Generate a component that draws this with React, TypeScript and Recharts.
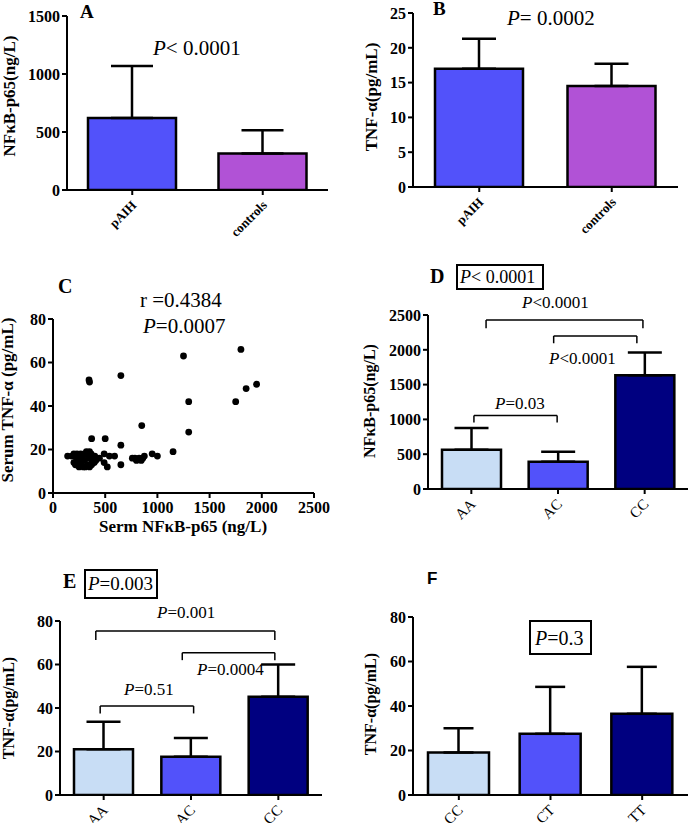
import React from 'react';
import { BarChart, Bar, XAxis, YAxis, ErrorBar, ReferenceLine, Cell, ScatterChart, Scatter } from 'recharts';

// A / B: patients vs controls
const groupsAB = ['pAIH', 'controls'];
const nfkbMeanA = [620, 315];
const nfkbSdA = [450, 200];
const nfkbTicksA = [0, 500, 1000, 1500];
const tnfMeanB = [17.0, 14.5];
const tnfSdB = [4.3, 3.2];
const tnfTicksB = [0, 5, 10, 15, 20, 25];

// C: correlation scatter (serum NFkB-p65 vs TNF-a)
const serumNfkb = [
  140, 180, 200, 215, 230, 250, 265, 285, 300, 320, 335, 350, 365, 380, 400, 420, 445,
  200, 215, 235, 250, 270, 290, 310, 330, 350, 370, 395,
  225, 260, 300, 340, 375, 410,
  490, 540, 590, 490, 520, 650, 650, 370, 500,
  760, 785, 800, 825, 845, 860, 875, 950, 1000, 1150, 850,
  345, 350, 650, 1250, 1300, 1300, 1750, 1800, 1850, 1950,
];
const serumTnf = [
  17, 17, 18, 17, 18, 17, 18, 17, 18, 19, 18, 19, 18, 17, 17, 16, 16,
  14, 13, 13, 12, 13, 12, 12, 13, 12, 13, 14,
  15, 15, 15, 16, 15, 15,
  18, 17, 17, 14, 12, 22, 13, 25, 25,
  16, 16, 15, 16, 15, 16, 17, 18, 17, 19, 31,
  52, 51, 54, 63, 42, 28, 42, 66, 48, 50,
];
const scatterXTicks = [0, 500, 1000, 1500, 2000, 2500];
const scatterYTicks = [0, 20, 40, 60, 80];

// D / E: genotypes AA AC CC
const genoDE = ['AA', 'AC', 'CC'];
const nfkbMeanD = [565, 392, 1635];
const nfkbSdD = [310, 143, 325];
const nfkbTicksD = [0, 500, 1000, 1500, 2000, 2500];
const tnfMeanE = [21, 17.6, 45.2];
const tnfSdE = [12.7, 8.6, 14.8];

// F: genotypes CC CT TT
const genoF = ['CC', 'CT', 'TT'];
const tnfMeanF = [19.1, 27.5, 36.5];
const tnfSdF = [10.9, 21.1, 21.1];
const tnfTicks80 = [0, 20, 40, 60, 80];

const pairColors = ['#5252FA', '#B152D6'];
const genoColors = ['#C8DDF5', '#5252FA', '#000080'];

const SERIF = 'Liberation Serif';

// significance brackets, x in category units (0 = left edge of axis)
type Bracket = { x1: number; x2: number; y: number; drop: number };
const bracketsD: Bracket[] = [
  { x1: 0.53, x2: 1.49, y: 1057, drop: 956 },
  { x1: 0.67, x2: 2.48, y: 2428, drop: 2309 },
  { x1: 1.45, x2: 2.41, y: 2199, drop: 2094 },
];
const bracketsE: Bracket[] = [
  { x1: 0.46, x2: 1.53, y: 40.9, drop: 37.5 },
  { x1: 0.41, x2: 2.46, y: 75.4, drop: 71.3 },
  { x1: 1.4, x2: 2.46, y: 65.4, drop: 62 },
];

const SlantTick = (props: any) => {
  const { x, y, payload, fontSize, bold, cats } = props;
  const label = cats[Math.round(payload.value - 0.5)];
  return (
    <g transform={`translate(${x + 5},${y + 9})`}>
      <text
        transform="rotate(-45)"
        textAnchor="end"
        style={{ fontFamily: SERIF, fontSize, fontWeight: bold ? 700 : 400 }}
        fill="#000"
      >
        {label}
      </text>
    </g>
  );
};

const NumTick = (props: any) => {
  const { x, y, payload, textAnchor, vertical } = props;
  return (
    <text
      x={x}
      y={y}
      dy={vertical ? '0.36em' : '0.8em'}
      textAnchor={textAnchor}
      style={{ fontFamily: SERIF, fontSize: 16, fontWeight: 700 }}
      fill="#000"
    >
      {payload.value}
    </text>
  );
};

const axisStyle = { stroke: '#000', strokeWidth: 2 };

type PanelProps = {
  left: number;
  top: number;
  width: number;
  height: number;
  plot: { left: number; top: number; right: number; bottom: number };
  cats: string[];
  means: number[];
  sds: number[];
  colors: string[];
  max: number;
  ticks: number[];
  barSize: number;
  cap: number;
  brackets?: Bracket[];
  tickFont: number;
  tickBold: boolean;
};

const BarPanel = (p: PanelProps) => {
  const data = p.cats.map((c, i) => ({ name: c, pos: i + 0.5, mean: p.means[i], sd: [0, p.sds[i]] }));
  return (
    <div style={{ position: 'absolute', left: p.left, top: p.top }}>
      <BarChart
        width={p.width}
        height={p.height}
        data={data}
        margin={{ top: p.plot.top - p.top, right: p.left + p.width - p.plot.right, left: 0, bottom: 0 }}
      >
        <XAxis
          dataKey="pos"
          type="number"
          domain={[0, p.cats.length]}
          allowDataOverflow
          ticks={data.map((d) => d.pos)}
          height={p.top + p.height - p.plot.bottom}
          axisLine={axisStyle}
          tickLine={axisStyle}
          tickSize={5}
          interval={0}
          tick={(t: any) => <SlantTick {...t} cats={p.cats} fontSize={p.tickFont} bold={p.tickBold} />}
        />
        <YAxis
          width={p.plot.left - p.left}
          domain={[0, p.max]}
          allowDataOverflow
          ticks={p.ticks}
          interval={0}
          axisLine={axisStyle}
          tickLine={axisStyle}
          tickSize={5}
          tick={(t: any) => <NumTick {...t} vertical />}
        />
        <Bar dataKey="mean" isAnimationActive={false} barSize={p.barSize} stroke="#000" strokeWidth={2.5}>
          {data.map((d, i) => (
            <Cell key={d.name} fill={p.colors[i]} />
          ))}
          <ErrorBar dataKey="sd" direction="y" width={p.cap} stroke="#000" strokeWidth={2.5} />
        </Bar>
        {(p.brackets || []).flatMap((b, i) => [
          <ReferenceLine key={`h${i}`} stroke="#000" strokeWidth={1.5} ifOverflow="visible"
            segment={[{ x: b.x1, y: b.y }, { x: b.x2, y: b.y }]} />,
          <ReferenceLine key={`l${i}`} stroke="#000" strokeWidth={1.5} ifOverflow="visible"
            segment={[{ x: b.x1, y: b.y }, { x: b.x1, y: b.drop }]} />,
          <ReferenceLine key={`r${i}`} stroke="#000" strokeWidth={1.5} ifOverflow="visible"
            segment={[{ x: b.x2, y: b.y }, { x: b.x2, y: b.drop }]} />,
        ])}
      </BarChart>
    </div>
  );
};

const PText = ({ x, y, size, rest, sep = '' }: { x: number; y: number; size: number; rest: string; sep?: string }) => (
  <text x={x} y={y} style={{ fontFamily: SERIF, fontSize: size }} fill="#000">
    <tspan fontStyle="italic">P</tspan>
    {sep}
    {rest}
  </text>
);

const VLabel = ({ cx, cy, text, size = 17 }: { cx: number; cy: number; text: string; size?: number }) => (
  <text
    x={cx}
    y={cy}
    transform={`rotate(-90 ${cx} ${cy})`}
    textAnchor="middle"
    dominantBaseline="central"
    style={{ fontFamily: SERIF, fontSize: size, fontWeight: 700 }}
    fill="#000"
  >
    {text}
  </text>
);

const Letter = ({ x, y, t, sans = false, size = 19 }: { x: number; y: number; t: string; sans?: boolean; size?: number }) => (
  <text x={x} y={y} style={{ fontFamily: sans ? 'Liberation Sans' : SERIF, fontWeight: 700, fontSize: size }} fill="#000">
    {t}
  </text>
);

export default function App() {
  const scatterData = serumNfkb.map((v, i) => ({ x: v, y: serumTnf[i] }));
  return (
    <div style={{ position: 'absolute', left: 0, top: 0, width: 691, height: 823, background: '#fff', overflow: 'hidden' }}>
      <BarPanel left={0} top={0} width={340} height={250}
        plot={{ left: 67, top: 16, right: 328, bottom: 190 }}
        cats={groupsAB} means={nfkbMeanA} sds={nfkbSdA} colors={pairColors}
        max={1500} ticks={nfkbTicksA} barSize={88} cap={21} tickFont={13} tickBold />
      <BarPanel left={345} top={0} width={346} height={250}
        plot={{ left: 413, top: 13, right: 678, bottom: 187 }}
        cats={groupsAB} means={tnfMeanB} sds={tnfSdB} colors={pairColors}
        max={25} ticks={tnfTicksB} barSize={88} cap={17} tickFont={13} tickBold />

      <div style={{ position: 'absolute', left: 0, top: 270 }}>
        <ScatterChart width={330} height={270} margin={{ top: 49, right: 16, left: 0, bottom: 0 }}>
          <XAxis type="number" dataKey="x" domain={[0, 2500]} ticks={scatterXTicks} interval={0}
            height={47} axisLine={axisStyle} tickLine={axisStyle} tickSize={5}
            tick={(t: any) => <NumTick {...t} />} />
          <YAxis type="number" dataKey="y" domain={[0, 80]} ticks={scatterYTicks} interval={0}
            width={53} axisLine={axisStyle} tickLine={axisStyle} tickSize={5}
            tick={(t: any) => <NumTick {...t} vertical />} />
          <Scatter data={scatterData} isAnimationActive={false} fill="#000"
            shape={(s: any) => <circle cx={s.cx} cy={s.cy} r={3.4} fill="#000" />} />
        </ScatterChart>
      </div>

      <BarPanel left={345} top={270} width={346} height={280}
        plot={{ left: 428, top: 315, right: 688, bottom: 489 }}
        cats={genoDE} means={nfkbMeanD} sds={nfkbSdD} colors={genoColors}
        max={2500} ticks={nfkbTicksD} barSize={59} cap={17} brackets={bracketsD} tickFont={15} tickBold={false} />
      <BarPanel left={0} top={600} width={340} height={223}
        plot={{ left: 60, top: 621, right: 322, bottom: 795 }}
        cats={genoDE} means={tnfMeanE} sds={tnfSdE} colors={genoColors}
        max={80} ticks={tnfTicks80} barSize={59} cap={17} brackets={bracketsE} tickFont={15} tickBold={false} />
      <BarPanel left={345} top={600} width={346} height={223}
        plot={{ left: 413, top: 617, right: 688, bottom: 795 }}
        cats={genoF} means={tnfMeanF} sds={tnfSdF} colors={genoColors}
        max={80} ticks={tnfTicks80} barSize={61} cap={15} tickFont={15} tickBold={false} />

      <svg width={691} height={823} style={{ position: 'absolute', left: 0, top: 0, pointerEvents: 'none' }}>
        {/* panel letters */}
        <Letter x={80} y={18} t="A" />
        <Letter x={433} y={15} t="B" />
        <Letter x={58} y={293} t="C" size={20} />
        <Letter x={430} y={283} t="D" size={20} />
        <Letter x={63} y={588} t="E" size={20} />
        <Letter x={427} y={584} t="F" sans size={17} />

        {/* axis titles */}
        <VLabel cx={9} cy={96} text="NFκB-p65(ng/L)" size={17} />
        <VLabel cx={371} cy={97} text="TNF-α(pg/mL)" />
        <VLabel cx={7} cy={400} text="Serum TNF-α (pg/mL)" />
        <text x={183} y={532} textAnchor="middle" style={{ fontFamily: SERIF, fontWeight: 700, fontSize: 17 }} fill="#000">
          Serm NFκB-p65 (ng/L)
        </text>
        <VLabel cx={369} cy={401} text="NFκB-p65(ng/L)" size={16} />
        <VLabel cx={8} cy={708} text="TNF-α(pg/mL)" size={16} />
        <VLabel cx={370} cy={704} text="TNF-α(pg/mL)" size={16} />

        {/* statistics */}
        <PText x={153} y={55} size={21} sep="<" rest=" 0.0001" />
        <PText x={507} y={25} size={21} sep="=" rest=" 0.0002" />
        <text x={140} y={307} style={{ fontFamily: SERIF, fontSize: 21 }} fill="#000">r =0.4384</text>
        <PText x={143} y={333} size={21} sep="=" rest="0.0007" />

        <rect x={457} y={265} width={86} height={24} fill="none" stroke="#000" strokeWidth={2} />
        <PText x={460} y={283} size={18} sep="<" rest=" 0.0001" />
        <PText x={522} y={308} size={17} sep="<" rest="0.0001" />
        <PText x={549} y={364} size={17} sep="<" rest="0.0001" />
        <PText x={495} y={409} size={17} sep="=" rest="0.03" />

        <rect x={85} y={570} width={72} height={28} fill="none" stroke="#000" strokeWidth={2} />
        <PText x={88} y={590} size={19} sep="=" rest="0.003" />
        <PText x={157} y={618} size={17} sep="=" rest="0.001" />
        <PText x={197} y={675} size={17} sep="=" rest="0.0004" />
        <PText x={124} y={695} size={17} sep="=" rest="0.51" />

        <rect x={530} y={621} width={61} height={33} fill="none" stroke="#000" strokeWidth={2} />
        <PText x={535} y={645} size={20} sep="=" rest="0.3" />
      </svg>
    </div>
  );
}
